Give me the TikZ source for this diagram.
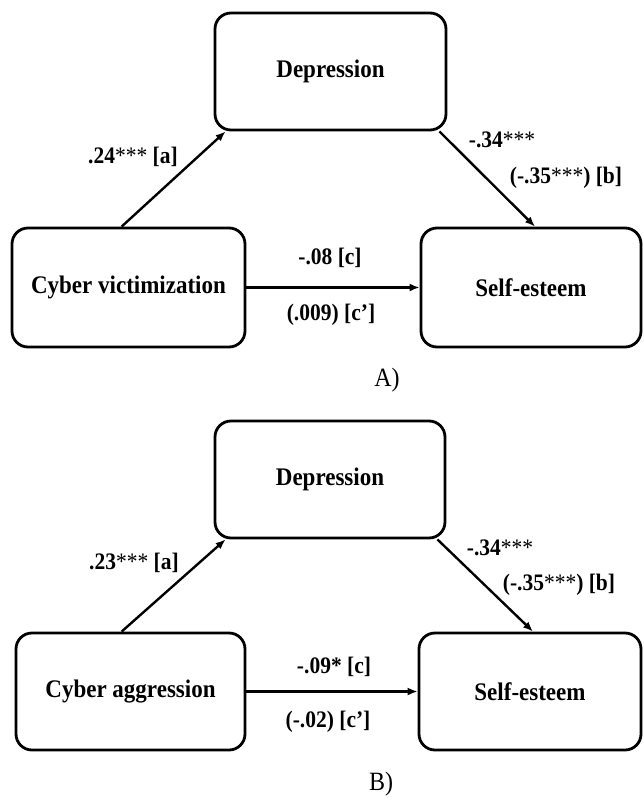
\documentclass[tikz,border=0pt]{standalone}
\usepackage{fontspec}
\usepackage{graphicx}
\setmainfont{Liberation Serif}
\usetikzlibrary{arrows.meta}
\newcommand\vs[1]{\scalebox{1}[1.1]{#1}}
\newcommand\stars{{\mdseries ***}}
\begin{document}
\begin{tikzpicture}[x=1pt,y=-1pt,
  box/.style={draw,line width=2.8pt,rounded corners=16pt,font=\fontsize{23}{26}\selectfont\bfseries,inner sep=0pt},
  arr/.style={line width=2.4pt,-{Latex[length=10pt,width=8pt]}},
  lab/.style={font=\fontsize{21.5}{24}\selectfont\bfseries,inner sep=0pt},
  capt/.style={font=\fontsize{24}{26}\selectfont,inner sep=0pt}]
\useasboundingbox (0,0) rectangle (643,798);
% Panel A
\node[box,minimum width=231pt,minimum height=117pt] (depa) at (330.5,71.5) {\vs{Depression}};
\node[box,minimum width=233pt,minimum height=119pt] (cv) at (128.5,287.5) {\vs{Cyber victimization}};
\node[box,minimum width=220pt,minimum height=119pt] (sea) at (531,287.5) {\vs{Self-esteem}};
\draw[arr] ([xshift=111pt]cv.north west) -- ([xshift=12pt]depa.south west);
\draw[arr] ([xshift=-8pt]depa.south east) -- ([xshift=4pt]sea.north);
\draw[arr] (cv.east) -- (sea.west);
\node[lab] (la) at (133,157) {\vs{.24\stars{} [a]}};
\node[lab] (lb1) at (502,140) {\vs{-.34\stars}};
\node[lab] (lb2) at (566,178) {\vs{(-.35\stars) [b]}};
\node[lab] (lc1) at (330,258) {\vs{-.08 [c]}};
\node[lab] (lc2) at (331,315) {\vs{(.009) [c’]}};
\node[capt] (capa) at (387,380) {\vs{A)}};
% Panel B
\node[box,minimum width=230pt,minimum height=117pt] (depb) at (330,479.5) {\vs{Depression}};
\node[box,minimum width=229pt,minimum height=117pt] (ca) at (130.5,691.5) {\vs{Cyber aggression}};
\node[box,minimum width=222pt,minimum height=117pt] (seb) at (530,691.5) {\vs{Self-esteem}};
\draw[arr] ([xshift=107pt]ca.north west) -- ([xshift=12pt]depb.south west);
\draw[arr] ([xshift=-9pt]depb.south east) -- ([xshift=3pt]seb.north);
\draw[arr] (ca.east) -- (seb.west);
\node[lab] (la2) at (134,563) {\vs{.23\stars{} [a]}};
\node[lab] (lb3) at (500,548) {\vs{-.34\stars}};
\node[lab] (lb4) at (559,585) {\vs{(-.35\stars) [b]}};
\node[lab] (lc3) at (334,667) {\vs{-.09* [c]}};
\node[lab] (lc4) at (328,722) {\vs{(-.02) [c’]}};
\node[capt] (capb) at (381,784) {\vs{B)}};
\end{tikzpicture}
\end{document}
